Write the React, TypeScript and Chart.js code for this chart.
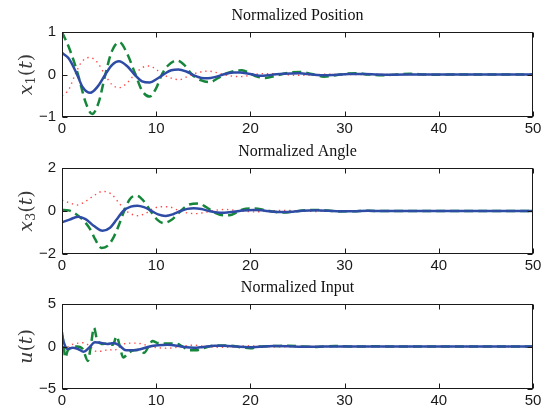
import React, { useEffect, useRef } from 'react';
import { Chart, registerables } from 'chart.js';

Chart.register(...registerables);

type Pt = [number, number];

// ---------- Data ----------
const xTickValues = [0, 10, 20, 30, 40, 50];

// Normalized Position x1(t)
const posSolid: Pt[] = [
  [0, 0.51], [0.7, 0.38], [1.5, 0.05], [2.2, -0.3], [3.0, -0.43], [3.8, -0.28], [4.6, 0.0],
  [5.3, 0.22], [6.05, 0.31], [6.9, 0.2], [7.7, 0.0], [8.5, -0.16], [9.3, -0.19], [10.1, -0.1],
  [10.9, 0.02], [11.6, 0.1], [12.35, 0.12], [13.2, 0.07], [14.0, -0.02], [14.8, -0.08],
  [15.5, -0.09], [16.4, -0.05], [17.3, 0.01], [18.2, 0.045], [18.9, 0.05], [19.8, 0.02],
  [21.0, -0.03], [22.2, -0.01], [23.5, 0.02], [25.2, 0.03], [26.5, 0.0], [27.8, -0.02],
  [29.0, -0.01], [30.5, 0.01], [32, 0.01], [33.5, 0.0], [35, -0.005], [38, 0.0], [50, 0.0],
];
const posDashed: Pt[] = [
  [0, 1.0], [0.8, 0.6], [1.7, 0.0], [2.5, -0.65], [3.2, -0.93], [3.9, -0.65], [4.6, 0.0],
  [5.3, 0.55], [6.1, 0.76], [6.9, 0.5], [7.8, 0.0], [8.5, -0.38], [9.3, -0.52], [10.0, -0.32],
  [10.6, 0.0], [11.2, 0.2], [12.2, 0.33], [13.0, 0.22], [13.8, 0.0], [14.8, -0.14],
  [15.7, -0.18], [16.6, -0.08], [17.5, 0.03], [19.1, 0.1], [20.0, 0.02], [20.7, -0.05],
  [21.6, -0.08], [22.7, -0.03], [24, 0.04], [25.3, 0.06], [26.5, 0.01], [27.8, -0.05],
  [29, -0.02], [30.2, 0.02], [31.3, 0.03], [32.5, 0.0], [34, -0.02], [35.5, 0.0],
  [37, 0.015], [38.5, 0.0], [40, -0.005], [42, 0], [50, 0],
];
const posDotted: Pt[] = [
  [0, -0.5], [0.7, -0.36], [1.4, 0.0], [2.1, 0.3], [2.9, 0.4], [3.7, 0.3], [4.5, 0.02],
  [5.3, -0.24], [6.1, -0.31], [6.9, -0.2], [7.7, 0.0], [8.5, 0.16], [9.3, 0.2], [10.1, 0.1],
  [10.9, -0.02], [11.8, -0.1], [12.5, -0.12], [13.3, -0.05], [14.2, 0.03], [15.5, 0.08],
  [16.5, 0.04], [17.5, -0.02], [18.9, -0.05], [20, -0.02], [21.2, 0.02], [22.5, 0.02],
  [24, -0.01], [25.5, -0.02], [27, 0], [28.5, 0.01], [30, 0], [50, 0],
];

// Normalized Angle x3(t)
const angSolid: Pt[] = [
  [0, -0.53], [0.8, -0.4], [1.7, -0.27], [2.5, -0.38], [3.4, -0.7], [4.3, -0.92], [5.1, -0.78],
  [5.8, -0.4], [6.5, 0.0], [7.3, 0.2], [8.0, 0.25], [8.7, 0.18], [9.4, 0.03], [10.2, -0.16],
  [11.0, -0.23], [11.8, -0.15], [12.6, 0.0], [13.3, 0.1], [14.0, 0.13], [14.8, 0.09],
  [15.6, 0.0], [16.5, -0.07], [17.2, -0.08], [18.2, -0.04], [19.2, 0.02], [20.3, 0.05],
  [21.2, 0.03], [22.2, -0.02], [23.5, -0.05], [24.5, -0.03], [25.5, 0.01], [27, 0.03],
  [28.3, 0.01], [29.5, -0.015], [31, -0.01], [32.5, 0.01], [34, 0.0], [50, 0],
];
const angDashed: Pt[] = [
  [0, 0.05], [0.7, 0.03], [1.5, -0.15], [2.3, -0.45], [3.0, -0.85], [3.5, -1.3], [4.2, -1.72],
  [4.9, -1.6], [5.5, -1.2], [6.0, -0.7], [6.6, 0.0], [7.2, 0.55], [7.9, 0.72], [8.6, 0.5],
  [9.4, 0.0], [10.1, -0.4], [10.8, -0.56], [11.6, -0.42], [12.6, 0.0], [13.5, 0.3],
  [14.5, 0.35], [15.3, 0.18], [16.1, -0.05], [17.2, -0.2], [17.8, -0.2], [18.6, -0.05],
  [19.5, 0.11], [20.5, 0.12], [21.5, 0.05], [22.5, -0.04], [23.5, -0.07], [24.5, -0.03],
  [25.5, 0.02], [27.2, 0.05], [28.2, 0.02], [29.5, -0.02], [31, -0.01], [32.5, 0.01],
  [34, 0], [50, 0],
];
const angDotted: Pt[] = [
  [0, 0.5], [0.8, 0.38], [1.6, 0.28], [2.5, 0.45], [3.4, 0.72], [4.3, 0.91], [5.2, 0.8],
  [6.0, 0.4], [6.7, 0.05], [7.4, -0.15], [8.1, -0.22], [8.9, -0.1], [9.7, 0.12], [10.6, 0.2],
  [11.5, 0.18], [12.5, 0.0], [13.5, -0.1], [14.3, -0.12], [15.2, -0.06], [16.2, 0.03],
  [17.3, 0.07], [18.5, 0.03], [19.5, -0.02], [20.5, -0.04], [22, 0.0], [23.5, 0.03],
  [25, 0.01], [27, -0.02], [29, 0], [50, 0],
];

// Normalized Input u(t)
const inSolid: Pt[] = [
  [0, 1.3], [0.25, 0.3], [0.6, -0.3], [1.1, -0.15], [1.7, -0.3], [2.3, -0.62], [2.9, -0.1],
  [3.5, 0.5], [4.2, 0.42], [4.8, 0.3], [5.5, 0.42], [6.1, 0.1], [6.8, -0.45], [7.6, -0.45],
  [8.4, -0.3], [9.3, 0.0], [10.2, 0.15], [11.2, 0.2], [12.2, 0.1], [13.2, -0.1], [14.0, -0.15],
  [15.0, -0.05], [16.2, 0.08], [17.2, 0.1], [18.5, 0.0], [19.8, -0.08], [21, -0.02],
  [22.5, 0.05], [24, 0.03], [25.5, -0.02], [27, -0.02], [28.5, 0.01], [30, 0.01], [32, 0],
  [50, 0],
];
const inDashed: Pt[] = [
  [0, 1.7], [0.15, 0.4], [0.35, -1.3], [0.6, -0.5], [1.0, -0.1], [1.6, 0.0], [2.2, -0.3],
  [2.75, -1.7], [3.05, 0.0], [3.4, 2.2], [3.7, 0.9], [4.2, 0.3], [4.8, 0.35], [5.4, 0.2],
  [5.8, 1.2], [6.1, 0.2], [6.5, -1.3], [7.0, -0.8], [7.6, -0.45], [8.2, -0.4], [8.7, -0.75],
  [9.2, 0.0], [9.6, 0.65], [10.2, 0.4], [11.2, 0.35], [12.2, 0.3], [12.8, 0.0], [13.5, -0.45],
  [14.2, -0.45], [15.0, -0.2], [16.0, 0.1], [17.0, 0.12], [18.0, 0.1], [19.0, -0.1],
  [20.0, -0.2], [21.0, 0.0], [22.5, 0.05], [24, 0.1], [25.5, 0.0], [27, -0.05], [29, 0.05],
  [31, 0.0], [33, 0.02], [36, 0], [50, 0],
];
const inDotted: Pt[] = [
  [0, -1.1], [0.3, -0.4], [0.8, 0.1], [1.5, 0.35], [2.3, 0.45], [3.0, 0.0], [3.6, -0.55],
  [4.3, -0.55], [4.9, -0.35], [5.5, -0.45], [6.2, 0.0], [6.9, 0.4], [7.7, 0.4], [8.5, 0.3],
  [9.3, 0.0], [10.2, -0.15], [11.2, -0.2], [12.2, -0.1], [13.2, 0.1], [14.0, 0.15], [15, 0.05],
  [16.2, -0.08], [17.2, -0.1], [18.5, 0], [19.8, 0.08], [21, 0.02], [22.5, -0.05], [24, -0.03],
  [26, 0.02], [28, 0], [50, 0],
];

const posTicks = [-1, 0, 1];
const angTicks = [-2, 0, 2];
const inTicks = [-5, 0, 5];

// ---------- Styling ----------
const BLUE = '#2e4ca6';
const GREEN = '#16863a';
const RED = '#ff4a4a';

const framePlugin = {
  id: 'frame',
  afterDraw(chart: any, _args: any, opts: any) {
    const { ctx, chartArea: a, scales } = chart;
    const x = scales.x;
    const y = scales.y;
    ctx.save();
    ctx.strokeStyle = '#1a1a1a';
    ctx.lineWidth = 1;
    const L = Math.round(a.left) + 0.5;
    const R = Math.round(a.right) - 0.5;
    const T = Math.round(a.top) + 0.5;
    const B = Math.round(a.bottom) - 0.5;
    ctx.strokeRect(L, T, R - L, B - T);
    const tl = 5;
    ctx.beginPath();
    for (const v of opts.xTicks) {
      const px = Math.round(x.getPixelForValue(v)) + 0.5;
      ctx.moveTo(px, B);
      ctx.lineTo(px, B - tl);
      ctx.moveTo(px, T);
      ctx.lineTo(px, T + tl);
    }
    for (const v of opts.yTicks) {
      const py = Math.round(y.getPixelForValue(v)) + 0.5;
      ctx.moveTo(L, py);
      ctx.lineTo(L + tl, py);
      ctx.moveTo(R, py);
      ctx.lineTo(R - tl, py);
    }
    ctx.stroke();
    ctx.fillStyle = '#111';
    ctx.font = '16px "Liberation Serif"';
    ctx.textAlign = 'center';
    ctx.textBaseline = 'middle';
    ctx.fillText(opts.title, (a.left + a.right) / 2, a.top - 16);
    const parts: { t: string; f: string; dy: number }[] = opts.yLabel;
    ctx.save();
    ctx.translate(27, (a.top + a.bottom) / 2);
    ctx.rotate(-Math.PI / 2);
    ctx.textAlign = 'left';
    ctx.textBaseline = 'middle';
    ctx.fillStyle = '#3a3a3a';
    let w = 0;
    for (const p of parts) {
      ctx.font = p.f;
      w += ctx.measureText(p.t).width;
    }
    let cx = -w / 2;
    for (const p of parts) {
      ctx.font = p.f;
      ctx.fillText(p.t, cx, p.dy);
      cx += ctx.measureText(p.t).width;
    }
    ctx.restore();
    ctx.restore();
  },
};

const MAIN_I = 'italic 19px "DejaVu Serif"';
const MAIN_R = '19px "DejaVu Serif"';
const SUB = '13px "DejaVu Serif"';

const mathLabel = (v: string, sub?: string) => {
  const arr: { t: string; f: string; dy: number }[] = [{ t: v, f: MAIN_I, dy: 0 }];
  if (sub) arr.push({ t: sub, f: SUB, dy: 5 });
  arr.push({ t: '(', f: MAIN_R, dy: 0 });
  arr.push({ t: 't', f: MAIN_I, dy: 0 });
  arr.push({ t: ')', f: MAIN_R, dy: 0 });
  return arr;
};

const fmt = (v: number) => (v < 0 ? '\u2212' + Math.abs(v) : String(v));

type PanelProps = {
  top: number;
  height: number;
  padTop: number;
  xHeight: number;
  title: string;
  yLabel: { t: string; f: string; dy: number }[];
  yTicks: number[];
  solid: Pt[];
  dashed: Pt[];
  dotted: Pt[];
};

function Panel(p: PanelProps) {
  const ref = useRef<HTMLCanvasElement | null>(null);
  useEffect(() => {
    if (!ref.current) return;
    const toXY = (arr: Pt[]) => arr.map(([x, y]) => ({ x, y }));
    const yMin = p.yTicks[0];
    const yMax = p.yTicks[p.yTicks.length - 1];
    const chart = new Chart(ref.current, {
      type: 'line',
      data: {
        datasets: [
          {
            data: toXY(p.solid),
            borderColor: BLUE,
            borderWidth: 2.5,
            pointRadius: 0,
            cubicInterpolationMode: 'monotone',
            fill: false,
          },
          {
            data: toXY(p.dashed),
            borderColor: GREEN,
            borderWidth: 2.5,
            borderDash: [9, 5],
            pointRadius: 0,
            cubicInterpolationMode: 'monotone',
            fill: false,
          },
          {
            data: toXY(p.dotted),
            borderColor: RED,
            borderWidth: 1.4,
            borderDash: [1.4, 3.8],
            pointRadius: 0,
            cubicInterpolationMode: 'monotone',
            fill: false,
          },
        ],
      } as any,
      options: {
        animation: false,
        responsive: false,
        events: [],
        layout: { padding: { left: 0, right: 12, top: p.padTop, bottom: 0 } },
        plugins: {
          legend: { display: false },
          tooltip: { enabled: false },
          frame: { title: p.title, yLabel: p.yLabel, xTicks: xTickValues, yTicks: p.yTicks },
        } as any,
        scales: {
          x: {
            type: 'linear',
            min: 0,
            max: 50,
            grid: { display: false, drawTicks: false },
            border: { display: false },
            afterFit: (s: any) => {
              s.height = p.xHeight;
            },
            afterBuildTicks: (s: any) => {
              s.ticks = xTickValues.map((v) => ({ value: v }));
            },
            ticks: {
              padding: 3,
              autoSkip: false,
              maxRotation: 0,
              color: '#1a1a1a',
              font: { family: '"Liberation Sans"', size: 15 },
            },
          },
          y: {
            type: 'linear',
            min: yMin,
            max: yMax,
            grid: { display: false, drawTicks: false },
            border: { display: false },
            afterFit: (s: any) => {
              s.width = 62;
            },
            afterBuildTicks: (s: any) => {
              s.ticks = p.yTicks.map((v) => ({ value: v }));
            },
            ticks: {
              padding: 6,
              color: '#1a1a1a',
              font: { family: '"Liberation Sans"', size: 15 },
              callback: (v: any) => fmt(Number(v)),
            },
          },
        },
      } as any,
      plugins: [framePlugin as any],
    });
    return () => chart.destroy();
  }, []);
  return (
    <div style={{ position: 'absolute', left: 0, top: p.top, width: 545, height: p.height }}>
      <canvas ref={ref} width={545} height={p.height} style={{ display: 'block' }} />
    </div>
  );
}

export default function App() {
  return (
    <div
      style={{
        position: 'absolute',
        left: 0,
        top: 0,
        width: 545,
        height: 410,
        background: '#fff',
        overflow: 'hidden',
      }}
    >
      <Panel
        top={0}
        height={137}
        padTop={32}
        xHeight={20}
        title="Normalized Position"
        yLabel={mathLabel('x', '1')}
        yTicks={posTicks}
        solid={posSolid}
        dashed={posDashed}
        dotted={posDotted}
      />
      <Panel
        top={137}
        height={137}
        padTop={31}
        xHeight={20}
        title="Normalized Angle"
        yLabel={mathLabel('x', '3')}
        yTicks={angTicks}
        solid={angSolid}
        dashed={angDashed}
        dotted={angDotted}
      />
      <Panel
        top={274}
        height={136}
        padTop={30}
        xHeight={21}
        title="Normalized Input"
        yLabel={mathLabel('u')}
        yTicks={inTicks}
        solid={inSolid}
        dashed={inDashed}
        dotted={inDotted}
      />
    </div>
  );
}
